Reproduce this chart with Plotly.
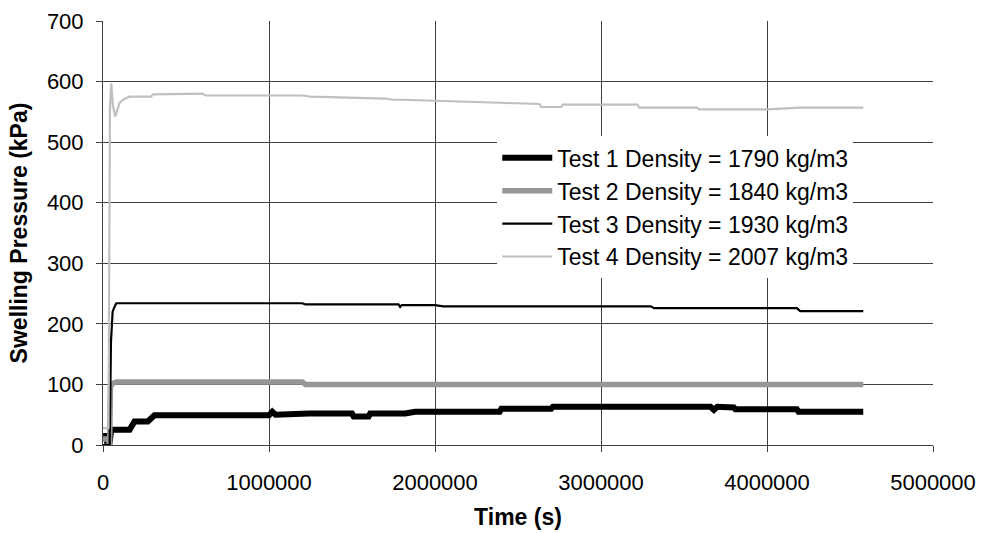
import plotly.graph_objects as go

# Swelling pressure tests, time in seconds, pressure in kPa
t1 = [0, 20000, 25000, 40000, 50000, 60000, 160000, 190000, 270000, 310000, 1000000, 1020000,
      1040000, 1240000, 1500000, 1510000, 1600000, 1610000, 1820000, 1880000, 2390000, 2400000,
      2700000, 2710000, 3660000, 3680000, 3700000, 3800000, 3810000, 4180000, 4190000, 4580000]
p1 = [15, 15, 5, 5, 25, 25, 25, 39, 39, 49, 49, 55,
      50, 52, 52, 47, 47, 52, 52, 55, 55, 60,
      60, 63, 63, 58, 63, 62, 59, 59, 55, 55]

t2 = [0, 30000, 40000, 45000, 55000, 80000, 1200000, 1220000, 4580000]
p2 = [10, 10, 0, 95, 101, 104, 104, 100, 100]

t3 = [0, 40000, 48000, 52000, 58000, 66000, 80000, 1200000, 1220000, 1780000, 1790000, 1800000,
      2000000, 2050000, 3300000, 3320000, 4180000, 4200000, 4580000]
p3 = [0, 0, 170, 201, 220, 226, 234, 234, 232, 232, 228, 231,
      231, 229, 229, 226, 226, 221, 221]

t4 = [0, 33000, 42000, 50000, 60000, 74000, 90000, 100000, 126000, 160000, 290000, 300000,
      600000, 620000, 1200000, 1250000, 1700000, 1750000, 1800000, 2000000, 2390000, 2630000,
      2640000, 2760000, 2770000, 3220000, 3230000, 3580000, 3590000, 4000000, 4200000, 4580000]
p4 = [28, 28, 556, 597, 560, 542, 556, 565, 571, 575, 575, 579,
      580, 577, 577, 575, 572, 570, 570, 568, 565, 563,
      558, 558, 562, 562, 557, 557, 554, 554, 557, 557]

names = ["Test 1 Density = 1790 kg/m3", "Test 2 Density = 1840 kg/m3",
         "Test 3 Density = 1930 kg/m3", "Test 4 Density = 2007 kg/m3"]

y_ticks = [0, 100, 200, 300, 400, 500, 600, 700]
x_ticks = [0, 1000000, 2000000, 3000000, 4000000, 5000000]

FONT = "Liberation Sans, Arial, sans-serif"
GRID = "#404040"

fig = go.Figure()
fig.add_trace(go.Scatter(x=t1, y=p1, mode="lines", name=names[0],
                         line=dict(color="#000000", width=6)))
fig.add_trace(go.Scatter(x=t2, y=p2, mode="lines", name=names[1],
                         line=dict(color="#969696", width=5.5)))
fig.add_trace(go.Scatter(x=t3, y=p3, mode="lines", name=names[2],
                         line=dict(color="#000000", width=2.2)))
fig.add_trace(go.Scatter(x=t4, y=p4, mode="lines", name=names[3],
                         line=dict(color="#c0c0c0", width=2.2)))

fig.update_layout(
    width=981, height=533,
    margin=dict(l=103, r=48, t=21, b=88, autoexpand=False),
    paper_bgcolor="white", plot_bgcolor="white",
    font=dict(family=FONT, size=22, color="black"),
    showlegend=True,
    legend=dict(x=0.475, y=0.728, xanchor="left", yanchor="top",
                bgcolor="white", borderwidth=0, itemwidth=50,
                font=dict(family=FONT, size=23, color="black")),
    xaxis=dict(range=[0, 5000000], tickvals=x_ticks, tickformat="d",
               automargin=False,
               showgrid=True, gridcolor=GRID, gridwidth=1,
               showline=True, linecolor=GRID, linewidth=1,
               ticks="outside", ticklen=6, tickcolor=GRID,
               ticklabelstandoff=12,
               zeroline=False,
               tickfont=dict(family=FONT, size=22),
               title=dict(text="<b>Time (s)</b>", font=dict(family=FONT, size=23), standoff=14)),
    yaxis=dict(range=[0, 700], tickvals=y_ticks,
               automargin=False,
               showgrid=True, gridcolor=GRID, gridwidth=1,
               showline=True, linecolor=GRID, linewidth=1,
               ticks="outside", ticklen=6, tickcolor=GRID,
               ticklabelstandoff=8,
               zeroline=False,
               tickfont=dict(family=FONT, size=22),
               title=dict(text="<b>Swelling Pressure (kPa)</b>", font=dict(family=FONT, size=23), standoff=12)),
)

fig.write_html("out.html")
